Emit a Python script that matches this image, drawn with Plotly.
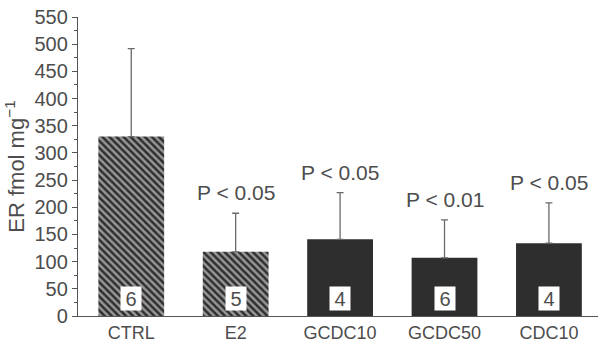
import plotly.graph_objects as go

categories = ["CTRL", "E2", "GCDC10", "GCDC50", "CDC10"]
means = [330, 118, 141, 107, 134]
errors = [162, 71, 86, 70, 74]
n_labels = ["6", "5", "4", "6", "4"]
p_labels = ["", "P < 0.05", "P < 0.05", "P < 0.01", "P < 0.05"]
patterns = ["\\", "\\", "", "", ""]

FONT = "Liberation Sans, Arial, Helvetica, sans-serif"
TXT = "#4d4d4d"
BAR = "#2e2e2e"

fig = go.Figure()
fig.add_trace(go.Bar(
    x=categories, y=means,
    marker=dict(
        color=[BAR] * 5,
        line=dict(width=0),
        pattern=dict(shape=patterns, fgcolor=BAR, bgcolor="white",
                     size=5, solidity=0.5, fillmode="overlay"),
    ),
    error_y=dict(type="data", array=errors, arrayminus=[0] * 5,
                 symmetric=False, color="#6a6a6a", thickness=1.3, width=3.5),
    showlegend=False,
))

for c, n in zip(categories, n_labels):
    fig.add_annotation(x=c, y=33, text=n, showarrow=False, yanchor="middle",
                       bgcolor="white", font=dict(size=20, color=TXT, family=FONT),
                       borderpad=1, width=18, height=21)

for c, m, e, p in zip(categories, means, errors, p_labels):
    if p:
        fig.add_annotation(x=c, y=m + e, text=p, showarrow=False, yanchor="bottom",
                           yshift=7, font=dict(size=21, color=TXT, family=FONT))

fig.update_layout(
    width=598, height=344,
    margin=dict(l=78, r=0, t=17, b=28),
    paper_bgcolor="white", plot_bgcolor="white",
    bargap=0.37,
    font=dict(family=FONT, color=TXT),
)
fig.update_xaxes(range=[-0.51, 4.47], showline=True, linecolor="#555555", linewidth=1.3,
                 ticks="", ticklen=0, automargin=False,
                 tickfont=dict(size=18, color=TXT, family=FONT), showgrid=False,
                 zeroline=False)
fig.update_yaxes(range=[0, 550], dtick=50, showline=True, linecolor="#555555", linewidth=1.3,
                 ticks="outside", ticklen=5, tickcolor="#555555", tickwidth=1.2,
                 automargin=False,
                 minor=dict(dtick=25, ticks="outside", ticklen=3, tickcolor="#555555", showgrid=False),
                 tickfont=dict(size=20, color=TXT, family=FONT), showgrid=False, zeroline=False,
                 title=dict(text="ER fmol mg<sup>−1</sup>", font=dict(size=22, color=TXT, family=FONT),
                            standoff=3))

fig.write_html("out.html", config={"displayModeBar": False},
               post_script="document.body.style.margin='0';document.body.style.padding='0';")
